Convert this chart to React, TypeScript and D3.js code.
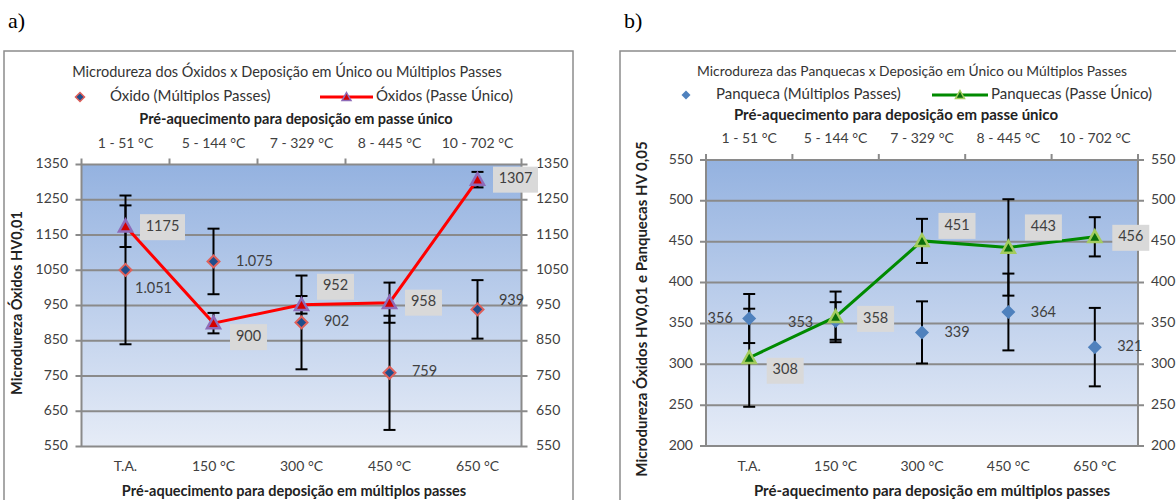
import React from "react";
import * as d3 from "d3";

// ---------- data ----------
const categoriesBottom = ["T.A.", "150 °C", "300 °C", "450 °C", "650 °C"];
const categoriesTop = ["1 - 51 °C", "5 - 144 °C", "7 - 329 °C", "8 - 445 °C", "10 - 702 °C"];

const oxidoMultiplos = [1051, 1075, 902, 759, 939];
const oxidoMultiplosErr = [211, 93, 133, 162, 83];
const oxidoUnico = [1175, 900, 952, 958, 1307];
const oxidoUnicoErr = [59, 29, 25, 57, 22];
const oxidoTicks = [550, 650, 750, 850, 950, 1050, 1150, 1250, 1350];

const panquecaMultiplos = [356, 353, 339, 364, 321];
const panquecaMultiplosErr = [30, 23, 38, 47, 48];
const panquecaUnico = [308, 358, 451, 443, 456];
const panquecaUnicoErr = [60, 31, 27, 59, 24];
const panquecaTicks = [200, 250, 300, 350, 400, 450, 500, 550];

// ---------- formatting ----------
const ptLocale = d3.formatLocale({ decimal: ",", thousands: ".", grouping: [3], currency: ["", ""] });
const fmtGrouped = ptLocale.format(",");
const fmtPlain = d3.format("d");

const FONT = "Lato, 'Open Sans', sans-serif";
const GRID = "#8a8a8a";
const TXT = "#404040";

type PanelCfg = {
  id: string;
  frame: { x: number; y: number; w: number; h: number };
  plot: { x0: number; x1: number; y0: number; y1: number };
  domain: [number, number];
  ticks: number[];
  multi: number[];
  multiErr: number[];
  unico: number[];
  unicoErr: number[];
  multiFmt: (v: number) => string;
  multiOff: [number, number][];
  unicoOff: [number, number][];
  title: string;
  titleX: number;
  titleY: number;
  titleSize: number;
  legendY: number;
  legMulti: string;
  legUnico: string;
  legDiamondX: number;
  legLineX0: number;
  legLineX1: number;
  topTitleY: number;
  topTitleX: number;
  topCatY: number;
  axisTitleSize: number;
  bottomTitleX: number;
  yTitle: string;
  yTitleX: number;
  yTitleY: number;
  leftLabelX: number;
  rightLabelX: number;
  lineColor: string;
  triFill: string;
  triStroke: string;
  diaFill: string;
  diaStroke: string;
  diaSize: number;
};

const panelA: PanelCfg = {
  id: "a",
  frame: { x: 4, y: 51, w: 569, h: 470 },
  plot: { x0: 81.5, x1: 521.5, y0: 164.5, y1: 446.5 },
  domain: [550, 1350],
  ticks: oxidoTicks,
  multi: oxidoMultiplos,
  multiErr: oxidoMultiplosErr,
  unico: oxidoUnico,
  unicoErr: oxidoUnicoErr,
  multiFmt: fmtGrouped,
  multiOff: [[28, 19], [41, 1], [35, 0], [35, 0], [34, -8]],
  unicoOff: [[37, 1], [35, 14], [34, -18], [34, 0], [38, 0]],
  title: "Microdureza dos Óxidos x Deposição em Único ou Múltiplos Passes",
  titleX: 287,
  titleY: 73,
  titleSize: 14.5,
  legendY: 97,
  legMulti: "Óxido (Múltiplos Passes)",
  legUnico: "Óxidos (Passe Único)",
  legDiamondX: 80,
  legLineX0: 320,
  legLineX1: 373,
  topTitleY: 120,
  topTitleX: 296,
  topCatY: 144,
  axisTitleSize: 14.5,
  bottomTitleX: 294,
  yTitle: "Microdureza Óxidos HV0,01",
  yTitleX: 18,
  yTitleY: 303,
  leftLabelX: 68,
  rightLabelX: 536,
  lineColor: "#ff0000",
  triFill: "#d40000",
  triStroke: "#8e6bb8",
  diaFill: "#1f4e8c",
  diaStroke: "#e0605a",
  diaSize: 12,
};

const panelB: PanelCfg = {
  id: "b",
  frame: { x: 620, y: 51, w: 600, h: 470 },
  plot: { x0: 706, x1: 1138, y0: 160, y1: 446 },
  domain: [200, 550],
  ticks: panquecaTicks,
  multi: panquecaMultiplos,
  multiErr: panquecaMultiplosErr,
  unico: panquecaUnico,
  unicoErr: panquecaUnicoErr,
  multiFmt: fmtPlain,
  multiOff: [[-29, 1], [-35, 2], [35, 1], [35, 1], [35, 0]],
  unicoOff: [[36, 13], [40, 2], [35, -15], [35, -20], [36, 1]],
  title: "Microdureza das Panquecas x Deposição em Único ou Múltiplos Passes",
  titleX: 912,
  titleY: 72,
  titleSize: 13.8,
  legendY: 95,
  legMulti: "Panqueca (Múltiplos Passes)",
  legUnico: "Panquecas (Passe Único)",
  legDiamondX: 686,
  legLineX0: 932,
  legLineX1: 988,
  topTitleY: 116,
  topTitleX: 896,
  topCatY: 139,
  axisTitleSize: 15,
  bottomTitleX: 932,
  yTitle: "Microdureza Óxidos HV0,01 e Panquecas HV 0,05",
  yTitleX: 643,
  yTitleY: 309,
  leftLabelX: 693,
  rightLabelX: 1151,
  lineColor: "#008a00",
  triFill: "#0a6e0a",
  triStroke: "#a4cc5e",
  diaFill: "#4f81bd",
  diaStroke: "none",
  diaSize: 14,
};

function diamondPath(cx: number, cy: number, s: number) {
  const h = s / 2;
  return `M${cx},${cy - h}L${cx + h},${cy}L${cx},${cy + h}L${cx - h},${cy}Z`;
}
function trianglePath(cx: number, cy: number, s: number) {
  const h = s / 2;
  return `M${cx},${cy - h}L${cx + h},${cy + h * 0.8}L${cx - h},${cy + h * 0.8}Z`;
}

function Panel({ c }: { c: PanelCfg }) {
  const x = d3
    .scaleBand<string>()
    .domain(categoriesBottom)
    .range([c.plot.x0, c.plot.x1])
    .paddingInner(0)
    .paddingOuter(0);
  const xTop = d3
    .scaleBand<string>()
    .domain(categoriesTop)
    .range([c.plot.x0, c.plot.x1]);
  const y = d3.scaleLinear().domain(c.domain).range([c.plot.y1, c.plot.y0]);
  const cx = (i: number) => (x(categoriesBottom[i]) as number) + x.bandwidth() / 2;
  const line = d3
    .line<number>()
    .x((_, i) => cx(i))
    .y((v) => y(v));
  const boundaries = d3.range(categoriesTop.length + 1).map((i) => c.plot.x0 + i * xTop.bandwidth());
  const gradId = `grad-${c.id}`;
  const capW = 6;

  const errBar = (v: number, e: number, i: number, key: string) => {
    const xc = cx(i);
    return (
      <g key={key} stroke="#000" strokeWidth={2}>
        <line x1={xc} x2={xc} y1={y(v + e)} y2={y(v - e)} />
        <line x1={xc - capW} x2={xc + capW} y1={y(v + e)} y2={y(v + e)} />
        <line x1={xc - capW} x2={xc + capW} y1={y(v - e)} y2={y(v - e)} />
      </g>
    );
  };

  return (
    <g fontFamily={FONT}>
      <defs>
        <linearGradient id={gradId} x1="0" y1="0" x2="0" y2="1">
          <stop offset="0%" stopColor="#94b2e0" />
          <stop offset="100%" stopColor="#e6ecf7" />
        </linearGradient>
      </defs>
      <rect
        x={c.frame.x}
        y={c.frame.y}
        width={c.frame.w}
        height={c.frame.h}
        fill="#fff"
        stroke="#8c8c8c"
        strokeWidth={1.5}
      />
      {/* title & legend */}
      <text x={c.titleX} y={c.titleY} textAnchor="middle" fontSize={c.titleSize} fill="#333" dominantBaseline="middle">
        {c.title}
      </text>
      <path d={diamondPath(c.legDiamondX, c.legendY, 9)} fill={c.diaFill} stroke={c.diaStroke} strokeWidth={1.5} />
      <text x={c.legDiamondX + 30} y={c.legendY} fontSize={15} fill="#333" dominantBaseline="middle">
        {c.legMulti}
      </text>
      <line x1={c.legLineX0} x2={c.legLineX1} y1={c.legendY} y2={c.legendY} stroke={c.lineColor} strokeWidth={3} />
      <path
        d={trianglePath((c.legLineX0 + c.legLineX1) / 2, c.legendY, 9)}
        fill={c.triFill}
        stroke={c.triStroke}
        strokeWidth={1.5}
      />
      <text x={c.legLineX1 + 3} y={c.legendY} fontSize={15} fill="#333" dominantBaseline="middle">
        {c.legUnico}
      </text>
      {/* top axis title and categories */}
      <text
        x={c.topTitleX}
        y={c.topTitleY}
        textAnchor="middle"
        fontSize={c.axisTitleSize}
        fontWeight="bold"
        fill="#222"
        dominantBaseline="middle"
      >
        Pré-aquecimento para deposição em passe único
      </text>
      {categoriesTop.map((t) => (
        <text
          key={t}
          x={(xTop(t) as number) + xTop.bandwidth() / 2}
          y={c.topCatY}
          textAnchor="middle"
          fontSize={14}
          fill={TXT}
          dominantBaseline="middle"
        >
          {t}
        </text>
      ))}
      {/* plot area */}
      <rect
        x={c.plot.x0}
        y={c.plot.y0}
        width={c.plot.x1 - c.plot.x0}
        height={c.plot.y1 - c.plot.y0}
        fill={`url(#${gradId})`}
      />
      {c.ticks.map((t) => (
        <g key={t}>
          <line x1={c.plot.x0 - 6} x2={c.plot.x1 + 6} y1={y(t)} y2={y(t)} stroke={GRID} strokeWidth={2} />
          <text x={c.leftLabelX} y={y(t)} textAnchor="end" fontSize={14} fill={TXT} dominantBaseline="middle">
            {t}
          </text>
          <text x={c.rightLabelX} y={y(t)} textAnchor="start" fontSize={14} fill={TXT} dominantBaseline="middle">
            {t}
          </text>
        </g>
      ))}
      <line x1={c.plot.x0} x2={c.plot.x0} y1={c.plot.y0} y2={c.plot.y1} stroke={GRID} strokeWidth={2} />
      <line x1={c.plot.x1} x2={c.plot.x1} y1={c.plot.y0} y2={c.plot.y1} stroke={GRID} strokeWidth={2} />
      {boundaries.map((bx, i) => (
        <line key={i} x1={bx} x2={bx} y1={c.plot.y0} y2={c.plot.y0 - 6} stroke={GRID} strokeWidth={2} />
      ))}
      {/* error bars */}
      {c.multi.map((v, i) => errBar(v, c.multiErr[i], i, `me${i}`))}
      {c.unico.map((v, i) => errBar(v, c.unicoErr[i], i, `ue${i}`))}
      {/* multi markers */}
      {c.multi.map((v, i) => (
        <path key={`md${i}`} d={diamondPath(cx(i), y(v), c.diaSize)} fill={c.diaFill} stroke={c.diaStroke} strokeWidth={2} />
      ))}
      {/* unico line */}
      <path d={line(c.unico) || ""} fill="none" stroke={c.lineColor} strokeWidth={3} />
      {c.unico.map((v, i) => (
        <path key={`ut${i}`} d={trianglePath(cx(i), y(v), 13)} fill={c.triFill} stroke={c.triStroke} strokeWidth={2.5} />
      ))}
      {/* labels: multi */}
      {c.multi.map((v, i) => (
        <text
          key={`ml${i}`}
          x={cx(i) + c.multiOff[i][0]}
          y={y(v) + c.multiOff[i][1]}
          textAnchor="middle"
          fontSize={14.5}
          fill={TXT}
          dominantBaseline="middle"
        >
          {c.multiFmt(v)}
        </text>
      ))}
      {/* labels: unico with boxes */}
      {c.unico.map((v, i) => {
        const lx = cx(i) + c.unicoOff[i][0];
        const ly = y(v) + c.unicoOff[i][1];
        const s = fmtPlain(v);
        const w = s.length * 8 + 13;
        return (
          <g key={`ul${i}`}>
            <rect x={lx - w / 2} y={ly - 13} width={w} height={26} fill="#d9d9d9" />
            <text x={lx} y={ly} textAnchor="middle" fontSize={14.5} fill={TXT} dominantBaseline="middle">
              {s}
            </text>
          </g>
        );
      })}
      {/* bottom categories */}
      {categoriesBottom.map((t, i) => (
        <text key={t} x={cx(i)} y={467} textAnchor="middle" fontSize={14} fill={TXT} dominantBaseline="middle">
          {t}
        </text>
      ))}
      <text
        x={c.bottomTitleX}
        y={492}
        textAnchor="middle"
        fontSize={c.axisTitleSize}
        fontWeight="bold"
        fill="#222"
        dominantBaseline="middle"
      >
        Pré-aquecimento para deposição em múltiplos passes
      </text>
      <text
        transform={`translate(${c.yTitleX},${c.yTitleY}) rotate(-90)`}
        textAnchor="middle"
        fontSize={c.axisTitleSize}
        fontWeight="bold"
        fill="#222"
        dominantBaseline="middle"
      >
        {c.yTitle}
      </text>
    </g>
  );
}

export default function App() {
  return (
    <svg
      width={1176}
      height={500}
      style={{ position: "absolute", left: 0, top: 0, background: "#fff" }}
    >
      <text x={8} y={28} fontFamily="'Liberation Serif', 'Times New Roman', serif" fontSize={22} fill="#000">
        a)
      </text>
      <text x={624} y={28} fontFamily="'Liberation Serif', 'Times New Roman', serif" fontSize={22} fill="#000">
        b)
      </text>
      <Panel c={panelA} />
      <Panel c={panelB} />
    </svg>
  );
}
